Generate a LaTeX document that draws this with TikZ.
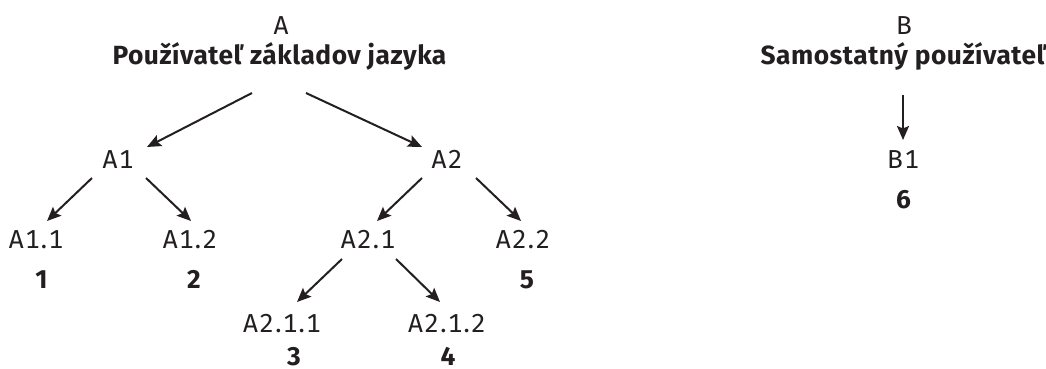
\documentclass[tikz,border=0pt]{standalone}
\usepackage{fontspec}
\setmainfont{Fira Sans}
\newfontfamily\lblfont[Numbers=Monospaced,LetterSpace=5]{Fira Sans}
\newfontfamily\ttlfont[LetterSpace=2]{Fira Sans}
\usetikzlibrary{arrows.meta,calc}
\definecolor{ink}{HTML}{231F20}
\tikzset{
  lbl/.style={anchor=base, inner sep=0pt, text=ink, font=\lblfont\fontsize{26}{30}\selectfont},
  bold/.style={anchor=base, inner sep=0pt, text=ink, font=\ttlfont\fontsize{26.3}{30}\selectfont\bfseries},
  arr/.style={draw=ink, line width=2pt, -{Stealth[length=14pt,width=12pt,inset=2.5pt]}}
}
\begin{document}
\begin{tikzpicture}[x=1pt,y=-1pt]
\useasboundingbox (0,0) rectangle (1046,369);
% group A
\node[lbl]  (A)    at (281,35)   {A};
\node[bold] (At)   at (279.5,65) {Používateľ základov jazyka};
\node[lbl]  (A1)   at (118,168)  {A1};
\node[lbl]  (A2)   at (447,168)  {A2};
\node[lbl]  (A11)  at (36,248)   {A1.1};
\node[lbl]  (A12)  at (190,248)  {A1.2};
\node[lbl]  (A21)  at (368,248)  {A2.1};
\node[lbl]  (A22)  at (523,248)  {A2.2};
\node[bold] (n1)   at (41.5,288) {1};
\node[bold] (n2)   at (194,288)  {2};
\node[bold] (n5)   at (527,288)  {5};
\node[lbl]  (A211) at (282,332)  {A2.1.1};
\node[lbl]  (A212) at (447,332)  {A2.1.2};
\node[bold] (n3)   at (294,365.5)  {3};
\node[bold] (n4)   at (448,365.5)  {4};
% group B
\node[lbl]  (B)    at (904,35)   {B};
\node[bold] (Bt)   at (903.5,65) {Samostatný používateľ};
\node[lbl]  (B1)   at (903,168)  {B1};
\node[bold] (n6)   at (903.5,208) {6};
% connectors
\draw[arr] ($(At.base)+(-27.5,28)$) -- ($(A1.base)+(29,-21)$);
\draw[arr] ($(At.base)+(26.5,28)$)  -- ($(A2.base)+(-25,-21)$);
\draw[arr] ($(A1.base)+(-26,10)$) -- ($(A11.base)+(11,-27)$);
\draw[arr] ($(A1.base)+(28,10)$)  -- ($(A12.base)+(1,-27)$);
\draw[arr] ($(A2.base)+(-25,10)$) -- ($(A21.base)+(9,-27)$);
\draw[arr] ($(A2.base)+(29,10)$)  -- ($(A22.base)+(-2,-27)$);
\draw[arr] ($(A21.base)+(-26,11)$) -- ($(A211.base)+(15,-30)$);
\draw[arr] ($(A21.base)+(28,11)$)  -- ($(A212.base)+(-7,-30)$);
\draw[arr] ($(Bt.base)+(-0.5,30)$) -- ($(B1.base)+(0,-28)$);
\end{tikzpicture}
\end{document}
